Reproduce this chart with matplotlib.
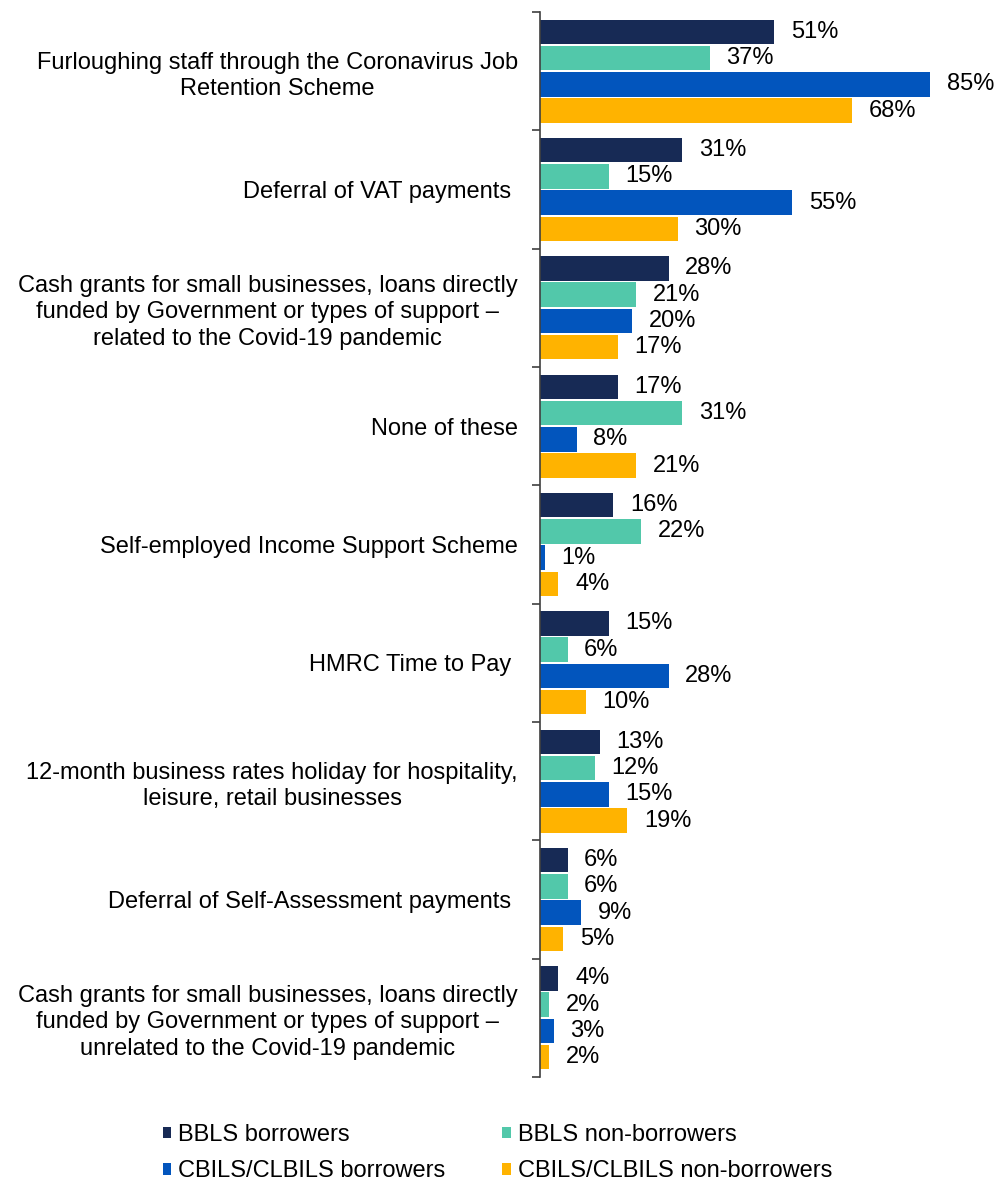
import matplotlib

matplotlib.use("Agg")
import matplotlib.pyplot as plt
import numpy as np
from matplotlib.patches import Patch

plt.rcParams["font.family"] = ["Liberation Sans", "DejaVu Sans"]

CATEGORIES = [
    "Furloughing staff through the Coronavirus Job\nRetention Scheme",
    "Deferral of VAT payments ",
    "Cash grants for small businesses, loans directly\nfunded by Government or types of support \u2013\nrelated to the Covid-19 pandemic",
    "None of these",
    "Self-employed Income Support Scheme",
    "HMRC Time to Pay ",
    "12-month business rates holiday for hospitality,\nleisure, retail businesses",
    "Deferral of Self-Assessment payments ",
    "Cash grants for small businesses, loans directly\nfunded by Government or types of support \u2013\nunrelated to the Covid-19 pandemic",
]
SERIES = [
    "BBLS borrowers",
    "BBLS non-borrowers",
    "CBILS/CLBILS borrowers",
    "CBILS/CLBILS non-borrowers",
]
BBLS_BORROWERS = [51, 31, 28, 17, 16, 15, 13, 6, 4]
BBLS_NON = [37, 15, 21, 31, 22, 6, 12, 6, 2]
CBILS_BORROWERS = [85, 55, 20, 8, 1, 28, 15, 9, 3]
CBILS_NON = [68, 30, 17, 21, 4, 10, 19, 5, 2]

COLORS = ["#172A55", "#52C8AA", "#0255BD", "#FFB300"]
FS = 17

fig = plt.figure(figsize=(9.97, 11.9), dpi=100)
ax = fig.add_axes([540 / 997, 1 - 1077 / 1190, 457 / 997, 1065 / 1190])

values = [BBLS_BORROWERS, BBLS_NON, CBILS_BORROWERS, CBILS_NON]
y = np.arange(len(CATEGORIES))
step = 0.222
height = 0.207
for i, (vals, color) in enumerate(zip(values, COLORS)):
    pos = y + (i - 1.5) * step
    ax.barh(pos, vals, height=height, color=color, zorder=2)
    for p, v in zip(pos, vals):
        ax.annotate(f"{v}%", (v, p), xytext=(12, 0), textcoords="offset points",
                    ha="left", va="center", fontsize=FS, color="black")

ax.set_xlim(0, 457 / 4.59)
ax.set_ylim(len(CATEGORIES) - 0.5, -0.5)
ax.set_xticks([])
ax.set_yticks(y)
ax.set_yticklabels(CATEGORIES, fontsize=FS, ha="right", multialignment="center", linespacing=1.25)
ax.tick_params(axis="y", which="major", length=0, pad=16)
ax.set_yticks(np.arange(-0.5, len(CATEGORIES), 1.0), minor=True)
ax.tick_params(axis="y", which="minor", length=6, width=1.2, color="#404040")
for side in ["top", "right", "bottom"]:
    ax.spines[side].set_visible(False)
ax.spines["left"].set_color("#404040")
ax.spines["left"].set_linewidth(1.2)

# ncol=2 fills column-first, so reorder to keep the reference's row layout
order = [0, 2, 1, 3]
handles = [Patch(facecolor=COLORS[k], edgecolor="none") for k in order]
fig.legend(
    handles,
    [SERIES[k] for k in order],
    loc="center left",
    bbox_to_anchor=(151 / 997, 1 - 1153 / 1190),
    ncol=2,
    frameon=False,
    fontsize=FS,
    handlelength=0.36,
    handleheight=0.36,
    handletextpad=0.3,
    columnspacing=2.4,
    labelspacing=0.62,
    borderpad=0,
)

fig.savefig("out.png", dpi=100, facecolor="white")
